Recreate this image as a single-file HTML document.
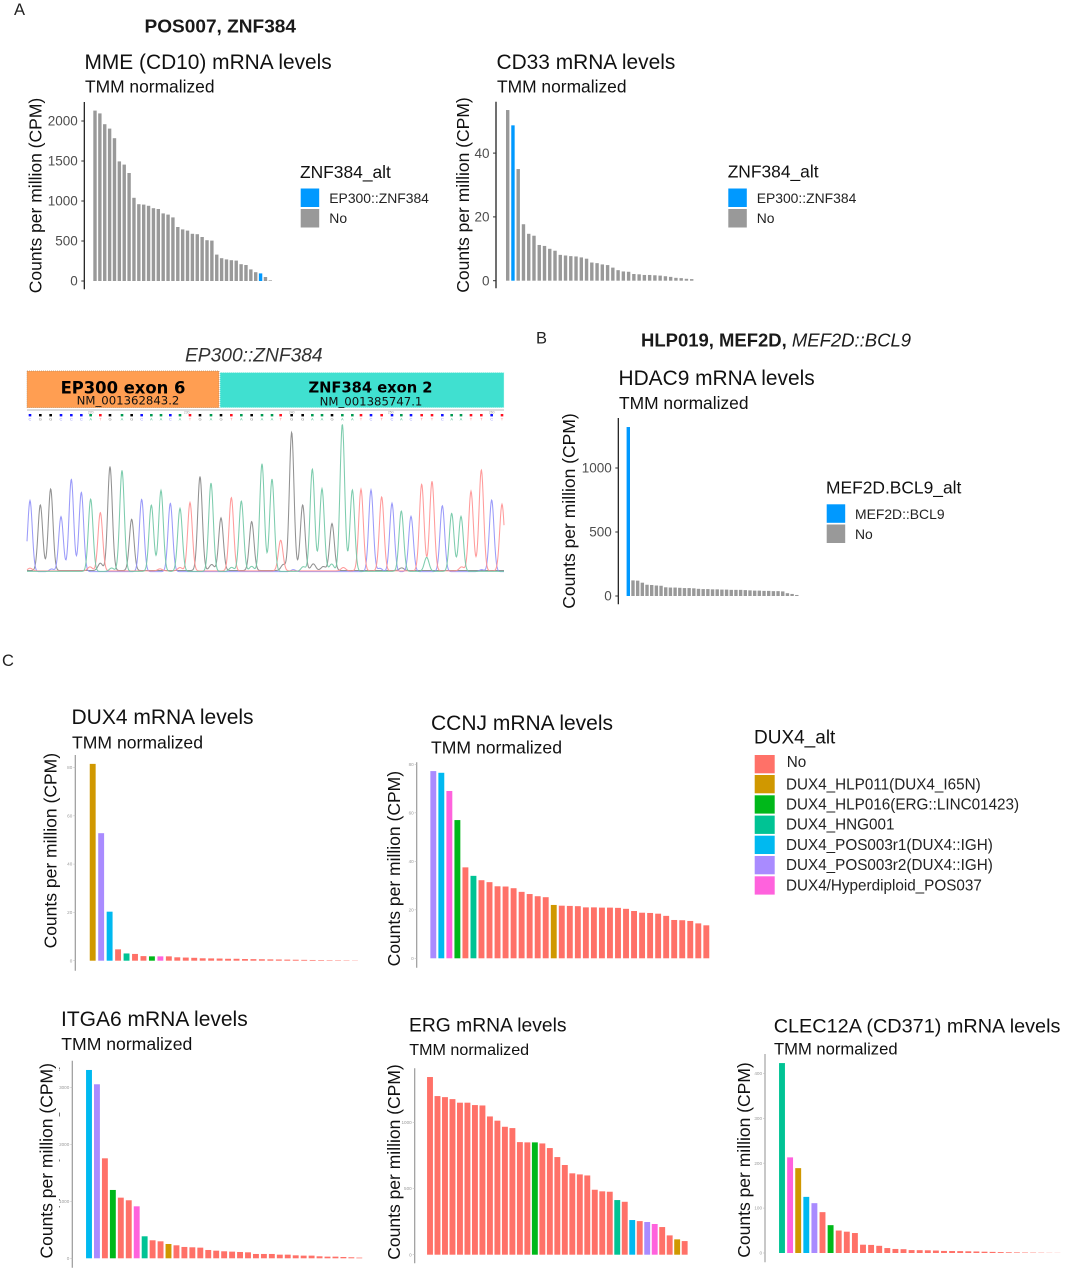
<!DOCTYPE html>
<html lang="en">
<head>
<meta charset="utf-8">
<title>Gene expression panels</title>
<style>
html,body{margin:0;padding:0;background:#fff;width:1065px;height:1270px;overflow:hidden}
svg{display:block}
text{font-family:"Liberation Sans",sans-serif}
.title{font-size:20.9px;fill:#111}
.sub{font-size:17.4px;fill:#111}
.ylab{font-size:17.5px;fill:#111;text-anchor:middle}
.legt{font-size:17.4px;fill:#111}
.legl{font-size:13.9px;fill:#222}
.legc{font-size:15.25px;fill:#222}
.panel{font-size:16.5px;fill:#222}
.head{font-size:18px;font-weight:700;fill:#1a1a1a}
</style>
</head>
<body>
<svg id="figure" width="1065" height="1270" viewBox="0 0 1065 1270" xmlns="http://www.w3.org/2000/svg">
<rect width="1065" height="1270" fill="#fff"/>

<text class="panel" x="14" y="15">A</text>
<text class="panel" x="536" y="343.5">B</text>
<text class="panel" x="2" y="666">C</text>
<text class="head" x="144.5" y="32.5" textLength="151.5" lengthAdjust="spacingAndGlyphs">POS007, ZNF384</text>
<text class="head" x="641" y="346.5" textLength="270" lengthAdjust="spacingAndGlyphs">HLP019, MEF2D, <tspan font-style="italic" font-weight="400">MEF2D::BCL9</tspan></text>

<!-- MME -->
<g id="chart-mme">
<text class="title" x="84.5" y="69">MME (CD10) mRNA levels</text>
<text class="sub" x="85" y="92.3">TMM normalized</text>
<text class="ylab" transform="translate(41.7 195.5) rotate(-90)">Counts per million (CPM)</text>
</g>
<g>
<text class="legt" x="300" y="178">ZNF384_alt</text>
<rect x="300.7" y="188.5" width="18.5" height="18.5" fill="#0099ff"/>
<rect x="300.7" y="209" width="18.5" height="18.5" fill="#999"/>
<text class="legl" x="329.3" y="203.2">EP300::ZNF384</text>
<text class="legl" x="329.3" y="223.2">No</text>
</g>

<!-- CD33 -->
<g id="chart-cd33">
<text class="title" x="496.5" y="69">CD33 mRNA levels</text>
<text class="sub" x="497" y="92.3">TMM normalized</text>
<text class="ylab" transform="translate(469 195) rotate(-90)">Counts per million (CPM)</text>
</g>
<g>
<text class="legt" x="727.7" y="177.5">ZNF384_alt</text>
<rect x="728.3" y="188.5" width="18.5" height="18.5" fill="#0099ff"/>
<rect x="728.3" y="209" width="18.5" height="18.5" fill="#999"/>
<text class="legl" x="756.7" y="202.8">EP300::ZNF384</text>
<text class="legl" x="756.7" y="222.8">No</text>
</g>

<!-- Chromatogram -->
<g id="chromatogram">
<text x="185" y="361.7" font-size="19.2" font-style="italic" fill="#333">EP300::ZNF384</text>
<rect x="27" y="371" width="192" height="36.7" fill="#ff9e52" stroke="#b98a60" stroke-width="0.7" stroke-dasharray="1 1"/>
<rect x="220" y="372.5" width="284" height="35.2" fill="#40e0d0" stroke="#d8f8f4" stroke-width="0.8" stroke-dasharray="1 1"/>
<text x="123" y="393.3" text-anchor="middle" style="font-family:'DejaVu Sans',sans-serif;font-size:16.4px;font-weight:700" fill="#000">EP300 exon 6</text>
<text x="128" y="404.4" text-anchor="middle" style="font-family:'DejaVu Sans',sans-serif;font-size:11.7px" fill="#111">NM_001362843.2</text>
<text x="370.5" y="392.4" text-anchor="middle" style="font-family:'DejaVu Sans',sans-serif;font-size:14.7px;font-weight:700" fill="#000">ZNF384 exon 2</text>
<text x="371" y="405.7" text-anchor="middle" style="font-family:'DejaVu Sans',sans-serif;font-size:11.7px" fill="#111">NM_001385747.1</text>
<rect x="27" y="409" width="477" height="2" fill="#dcdcdc"/>
</g>

<!-- HDAC9 -->
<g id="chart-hdac9">
<text class="title" x="618.5" y="385">HDAC9 mRNA levels</text>
<text class="sub" x="619" y="409">TMM normalized</text>
<text class="ylab" transform="translate(575 511) rotate(-90)">Counts per million (CPM)</text>
</g>
<g>
<text class="legt" x="826" y="493.3">MEF2D.BCL9_alt</text>
<rect x="826.7" y="504.3" width="18.5" height="18.5" fill="#0099ff"/>
<rect x="826.7" y="524.5" width="18.5" height="18.5" fill="#999"/>
<text class="legl" x="855" y="519">MEF2D::BCL9</text>
<text class="legl" x="855" y="539">No</text>
</g>

<!-- DUX4 -->
<g id="chart-dux4">
<text class="title" x="71.5" y="724" style="font-size:21px">DUX4 mRNA levels</text>
<text class="sub" x="72" y="748.3" style="font-size:17.6px">TMM normalized</text>
<text class="ylab" transform="translate(56.7 850.7) rotate(-90)">Counts per million (CPM)</text>
</g>

<!-- CCNJ -->
<g id="chart-ccnj">
<text class="title" x="431" y="730" style="font-size:21px">CCNJ mRNA levels</text>
<text class="sub" x="431" y="753.3" style="font-size:17.6px">TMM normalized</text>
<text class="ylab" transform="translate(400 868.7) rotate(-90)">Counts per million (CPM)</text>
</g>

<!-- DUX4 legend -->
<g>
<text x="754" y="743.3" style="font-size:19px" fill="#111">DUX4_alt</text>
<rect x="754.7" y="755" width="20" height="18.3" fill="#ff7168"/>
<rect x="754.7" y="775" width="20" height="18.3" fill="#d09800"/>
<rect x="754.7" y="795.3" width="20" height="18.3" fill="#00b81a"/>
<rect x="754.7" y="815.6" width="20" height="18.3" fill="#00c394"/>
<rect x="754.7" y="835.7" width="20" height="18.3" fill="#00b9f0"/>
<rect x="754.7" y="856" width="20" height="18.3" fill="#a98bff"/>
<rect x="754.7" y="876.3" width="20" height="18.3" fill="#ff62dd"/>
<text class="legc" x="786.7" y="767">No</text>
<text class="legc" x="786" y="789.5">DUX4_HLP011(DUX4_I65N)</text>
<text class="legc" x="786" y="809.5">DUX4_HLP016(ERG::LINC01423)</text>
<text class="legc" x="786" y="829.7">DUX4_HNG001</text>
<text class="legc" x="786" y="849.8">DUX4_POS003r1(DUX4::IGH)</text>
<text class="legc" x="786" y="870">DUX4_POS003r2(DUX4::IGH)</text>
<text class="legc" x="786" y="890.3">DUX4/Hyperdiploid_POS037</text>
</g>

<!-- ITGA6 -->
<g id="chart-itga6">
<text class="title" x="61" y="1026" style="font-size:21px">ITGA6 mRNA levels</text>
<text class="sub" x="61.3" y="1050" style="font-size:17.6px">TMM normalized</text>
<text class="ylab" transform="translate(52.3 1160.8) rotate(-90)">Counts per million (CPM)</text>
<path d="M59.5 1067.5v1.5M59.5 1069.7v.8M59.5 1112.5v4M59.5 1159.5v2M59.5 1199v1.5M59.5 1206v1.5" stroke="#555" stroke-width="0.8" fill="none"/>
</g>

<!-- ERG -->
<g id="chart-erg">
<text class="title" x="409" y="1031.7" style="font-size:19.3px">ERG mRNA levels</text>
<text class="sub" x="409.3" y="1055" style="font-size:16.1px">TMM normalized</text>
<text class="ylab" transform="translate(400 1162) rotate(-90)">Counts per million (CPM)</text>
</g>

<!-- CLEC12A -->
<g id="chart-clec12a">
<text class="title" x="773.7" y="1032.3" style="font-size:19.85px">CLEC12A (CD371) mRNA levels</text>
<text class="sub" x="774" y="1054.3" style="font-size:16.6px">TMM normalized</text>
<text class="ylab" transform="translate(750 1160) rotate(-90)">Counts per million (CPM)</text>
</g>
</svg>

<script>
// ---------- chart data ----------
const mmeValues = [2130,2095,1960,1905,1785,1495,1455,1350,1040,960,955,940,910,900,845,830,795,675,645,630,590,585,550,510,505,330,285,270,260,255,210,200,145,110,95,50,8];
const mmeCategories = ['n','n','n','n','n','n','n','n','n','n','n','n','n','n','n','n','n','n','n','n','n','n','n','n','n','n','n','n','n','n','n','n','n','n','f','n','n'];
const mmeTicks = [0,500,1000,1500,2000];

const cd33Values = [53.5,48.7,35,17.7,14.7,14.1,11.2,10.9,10,9.4,8.1,7.9,7.7,7.6,7.3,6.9,5.7,5.5,5.1,4.9,4.1,3.3,2.9,2.8,2.1,2,1.8,1.8,1.7,1.6,1.4,1.2,0.9,0.8,0.6,0.5];
const cd33Categories = ['n','f','n','n','n','n','n','n','n','n','n','n','n','n','n','n','n','n','n','n','n','n','n','n','n','n','n','n','n','n','n','n','n','n','n','n'];
const cd33Ticks = [0,20,40];

const hdac9Values = [1320,122,120,104,88,86,82,80,68,66,66,64,62,62,60,56,54,54,52,52,50,50,48,48,48,46,44,42,42,40,40,38,38,36,22,16,8];
const hdac9Categories = ['f','n','n','n','n','n','n','n','n','n','n','n','n','n','n','n','n','n','n','n','n','n','n','n','n','n','n','n','n','n','n','n','n','n','n','n','n'];
const hdac9Ticks = [0,500,1000];

const dux4Values = [81.5,52.8,20.3,4.7,3,2.8,1.9,1.8,1.8,1.8,1.4,1.3,1.2,1,0.95,0.9,0.8,0.8,0.7,0.65,0.6,0.55,0.5,0.45,0.4,0.35,0.3,0.25,0.2,0.18,0.15,0.1];
const dux4Categories = ['i65n','r2','r1','n','hng','n','n','erg','hyper','n','n','n','n','n','n','n','n','n','n','n','n','n','n','n','n','n','n','n','n','n','n','n'];
const dux4Ticks = [0,20,40,60,80];

const ccnjValues = [77.2,76.5,69,57,37.5,34,32.2,31.4,29.7,29.6,28.9,27.4,26.5,25.6,25.2,22,21.7,21.6,21.5,21,21,20.9,20.9,20.8,20.4,19.5,18.8,18.7,18.4,17.5,15.8,15.7,15.4,14.4,13.6];
const ccnjCategories = ['r2','r1','hyper','erg','n','hng','n','n','n','n','n','n','n','n','n','i65n','n','n','n','n','n','n','n','n','n','n','n','n','n','n','n','n','n','n','n'];
const ccnjTicks = [0,20,40,60,80];

const itga6Values = [3304,3053,1754,1199,1064,1018,912,386,316,298,251,228,199,193,187,146,134,123,117,111,105,76,76,76,64,64,52,47,47,35,29,29,23,18,12];
const itga6Categories = ['r1','r2','n','erg','n','n','hyper','hng','n','n','i65n','n','n','n','n','n','n','n','n','n','n','n','n','n','n','n','n','n','n','n','n','n','n','n','n'];
const itga6Ticks = [0,1000,2000,3000];

const ergValues = [1343,1199,1191,1176,1149,1149,1131,1128,1045,1013,967,957,851,849,849,841,806,738,678,615,607,599,491,479,476,413,400,262,254,247,232,209,146,116,103];
const ergCategories = ['n','n','n','n','n','n','n','n','n','n','n','n','n','n','erg','n','n','n','n','n','n','n','n','n','n','hng','n','r1','n','r2','hyper','n','n','i65n','n'];
const ergTicks = [0,500,1000];

const clecValues = [423,213,189,125,111,91,62,50,47.5,44.5,18.5,18,16,11,9,8.5,6.5,6.3,6,5.5,4.6,4.4,4.2,3.8,3.4,2.9,2.5,2,1.6,1.3,1,0.8,0.6,0.4,0.3];
const clecCategories = ['hng','hyper','i65n','r1','r2','n','erg','n','n','n','n','n','n','n','n','n','n','n','n','n','n','n','n','n','n','n','n','n','n','n','n','n','n','n','n'];
const clecTicks = [0,100,200,300,400];

// ---------- chromatogram data (scan position, peak signal, base call) ----------
const chromBases = ['C','G','G','C','C','C','A','T','G','A','G','C','A','A','C','A','T','G','A','G','T','A','G','A','A','T','G','G','A','A','G','A','A','T','C','T','C','A','C','T','T','C','A','A','T','T','C','T'];
const chromScans = [60,91,122,153,184,214,242,271,300,336,365,395,424,453,481,510,540,570,603,633,664,694,725,756,786,812,845,878,907,936,966,997,1027,1053,1083,1115,1146,1174,1203,1235,1266,1297,1325,1353,1383,1414,1445,1476];
const chromSignals = [213,197,245,165,272,238,217,175,312,303,154,217,199,243,205,189,205,282,265,158,220,211,147,323,277,92,415,197,307,248,141,442,237,245,245,222,205,181,166,260,269,198,174,165,239,303,215,200];
const chromNoiseBases = ['G','A','T','C','G','A','T','G','A','C','G','A','T','G','A','C','T','A','G','T','C','A','T','C'];
const chromNoiseScans = [271,305,240,125,605,665,510,820,725,850,910,880,450,940,965,1110,1000,1250,1175,1355,1415,1030,60,180];
const chromNoiseSignals = [22,10,12,8,18,12,10,18,15,6,20,14,6,12,22,10,10,42,8,12,6,8,8,6];
const chromRulerLabels = ['220','230','240','250','260'];
const chromRulerScans = [242,530,845,1142,1445];

// ---------- styling ----------
const SVG_NS = 'http://www.w3.org/2000/svg';
const categoryColors = {n:'#999999', f:'#0099ff'};
const altColors = {n:'#ff7168', i65n:'#d09800', erg:'#00b81a', hng:'#00c394', r1:'#00b9f0', r2:'#a98bff', hyper:'#ff62dd'};
const baseColors = {A:'#6fc6a4', C:'#9090f8', G:'#858585', T:'#ff9090'};
const callColors = {A:'#009a50', C:'#1010ff', G:'#000000', T:'#ff1020'};

function svgEl(tag, parent) {
  const el = document.createElementNS(SVG_NS, tag);
  parent.appendChild(el);
  return el;
}

function drawBarChart(cfg) {
  const g = document.getElementById(cfg.id);
  const yScale = v => cfg.zeroY - v * cfg.pxPerUnit;
  const xScale = i => cfg.firstX + i * cfg.step;

  const axis = svgEl('line', g);
  
  
  axis.setAttribute('x1', cfg.axisX);
  axis.setAttribute('x2', cfg.axisX);
  axis.setAttribute('y1', cfg.axisTop);
  axis.setAttribute('y2', cfg.axisBottom);
  axis.setAttribute('stroke', cfg.axisColor);
  axis.setAttribute('stroke-width', cfg.axisWidth);

  cfg.ticks.forEach(t => {
    const tick = svgEl('line', g);
    
    
    tick.setAttribute('x1', cfg.axisX - cfg.tickLen);
    tick.setAttribute('x2', cfg.axisX);
    tick.setAttribute('y1', yScale(t));
    tick.setAttribute('y2', yScale(t));
    tick.setAttribute('stroke', cfg.tickColor);
    tick.setAttribute('stroke-width', cfg.tickWidth);

    const label = svgEl('text', g);
    
    
    label.setAttribute('x', cfg.axisX - cfg.tickLen - cfg.labelGap);
    label.setAttribute('y', yScale(t) + cfg.labelSize * 0.35);
    label.setAttribute('text-anchor', 'end');
    label.setAttribute('fill', cfg.labelColor);
    label.style.fontSize = cfg.labelSize + 'px';
    label.textContent = String(t);
  });

  cfg.values.forEach((v, i) => {
    const bar = svgEl('rect', g);
    
    
    bar.setAttribute('x', xScale(i) - cfg.barWidth / 2);
    bar.setAttribute('y', yScale(v));
    bar.setAttribute('width', cfg.barWidth);
    bar.setAttribute('height', Math.max(0, cfg.zeroY - yScale(v)));
    bar.setAttribute('fill', cfg.palette[cfg.categories[i]]);
  });
}

const darkAxis = {axisColor:'#111', axisWidth:1.2, tickColor:'#333', tickWidth:1, tickLen:3, labelGap:3.5, labelSize:13.5, labelColor:'#4d4d4d', barWidth:3.4, palette:categoryColors};
const greyAxis = {axisColor:'#9a9a9a', axisWidth:1.2, tickColor:'#bbb', tickWidth:0.6, tickLen:2, labelGap:1, labelSize:4.6, labelColor:'#9a9a9a', barWidth:5.9, palette:altColors};

drawBarChart(Object.assign({}, darkAxis, {id:'chart-mme', values:mmeValues, categories:mmeCategories, ticks:mmeTicks, zeroY:281, pxPerUnit:0.08, firstX:95, step:4.87, axisX:84.3, axisTop:102, axisBottom:289.3}));
drawBarChart(Object.assign({}, darkAxis, {id:'chart-cd33', values:cd33Values, categories:cd33Categories, ticks:cd33Ticks, zeroY:280.7, pxPerUnit:3.19, firstX:507.7, step:5.257, axisX:496, axisTop:101.7, axisBottom:288.3}));
drawBarChart(Object.assign({}, darkAxis, {id:'chart-hdac9', values:hdac9Values, categories:hdac9Categories, ticks:hdac9Ticks, zeroY:596, pxPerUnit:0.128, firstX:628.3, step:4.68, axisX:618.3, axisTop:418, axisBottom:604.3}));
drawBarChart(Object.assign({}, greyAxis, {id:'chart-dux4', values:dux4Values, categories:dux4Categories, ticks:dux4Ticks, zeroY:960.7, pxPerUnit:2.415, firstX:92.7, step:8.46, axisX:75.3, axisTop:755, axisBottom:970.7}));
drawBarChart(Object.assign({}, greyAxis, {id:'chart-ccnj', values:ccnjValues, categories:ccnjCategories, ticks:ccnjTicks, zeroY:958.3, pxPerUnit:2.425, firstX:433.3, step:8.03, axisX:416.7, axisTop:762.3, axisBottom:967.7}));
drawBarChart(Object.assign({}, greyAxis, {id:'chart-itga6', values:itga6Values, categories:itga6Categories, ticks:itga6Ticks, zeroY:1258.3, pxPerUnit:0.057, firstX:89, step:7.95, axisX:72.3, axisTop:1060.7, axisBottom:1267.7}));
drawBarChart(Object.assign({}, greyAxis, {id:'chart-erg', values:ergValues, categories:ergCategories, ticks:ergTicks, zeroY:1254.7, pxPerUnit:0.1323, firstX:430, step:7.49, axisX:414.7, axisTop:1068.3, axisBottom:1263.3}));
drawBarChart(Object.assign({}, greyAxis, {id:'chart-clec12a', values:clecValues, categories:clecCategories, ticks:clecTicks, zeroY:1253, pxPerUnit:0.449, firstX:782, step:8.1, axisX:765, axisWidth:1.5, axisColor:'#b5b5b5', axisTop:1054, axisBottom:1262.3}));

// ---------- chromatogram ----------
function drawChromatogram() {
  const g = document.getElementById('chromatogram');
  const xScan = s => 10 + s / 3;
  const ySignal = h => 571.7 - h / 3;
  const sigma = 6.9;
  const channelOffset = {A:1, T:2.5, C:0.2, G:3.5};

  ['G','C','T','A'].forEach(base => {
    let d = '';
    for (let s = 51; s <= 1482; s += 1.5) {
      let h = channelOffset[base];
      chromBases.forEach((b, i) => {
        if (b === base) h += chromSignals[i] * Math.exp(-0.5 * Math.pow((s - chromScans[i]) / sigma, 2));
      });
      chromNoiseBases.forEach((b, i) => {
        if (b === base) h += chromNoiseSignals[i] * Math.exp(-0.5 * Math.pow((s - chromNoiseScans[i]) / 7, 2));
      });
      d += (d ? 'L' : 'M') + xScan(s).toFixed(2) + ' ' + ySignal(h).toFixed(2);
    }
    const trace = svgEl('path', g);
    
    
    trace.setAttribute('d', d);
    trace.setAttribute('fill', 'none');
    trace.setAttribute('stroke', baseColors[base]);
    trace.setAttribute('stroke-width', '1.05');
    trace.setAttribute('stroke-opacity', '0.9');
  });

  chromBases.forEach((b, i) => {
    const dot = svgEl('rect', g);
    
    
    dot.setAttribute('x', xScan(chromScans[i]) - 1.3);
    dot.setAttribute('y', 414);
    dot.setAttribute('width', 2.6);
    dot.setAttribute('height', 2.4);
    dot.setAttribute('fill', callColors[b]);

    const letter = svgEl('text', g);
    
    
    letter.setAttribute('x', xScan(chromScans[i]));
    letter.setAttribute('y', 420.6);
    letter.setAttribute('text-anchor', 'middle');
    letter.setAttribute('fill', baseColors[b]);
    letter.style.fontSize = '4px';
    letter.textContent = b;
  });

  chromRulerLabels.forEach((t, i) => {
    const rulerLabel = svgEl('text', g);
    
    
    rulerLabel.setAttribute('x', xScan(chromRulerScans[i]));
    rulerLabel.setAttribute('y', 413.6);
    rulerLabel.setAttribute('text-anchor', 'middle');
    rulerLabel.setAttribute('fill', '#999');
    rulerLabel.style.fontSize = '3.4px';
    rulerLabel.textContent = t;
  });
}
drawChromatogram();
</script>
</body>
</html>
